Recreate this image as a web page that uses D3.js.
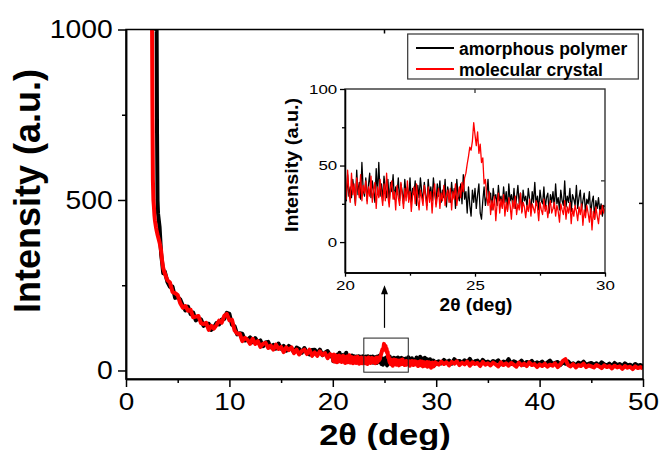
<!DOCTYPE html>
<html>
<head>
<meta charset="utf-8">
<script src="https://cdn.jsdelivr.net/npm/d3@7"></script>
<style>
body { margin: 0; background: #fff; }
text { font-family: "Liberation Sans", Arial, sans-serif; }
</style>
</head>
<body>
<svg width="663" height="450"></svg>
<script>
// series names
var seriesNames = ["amorphous polymer", "molecular crystal"];

// low angle part, uneven steps
var lowX = [2.45, 2.5, 2.55, 2.6, 2.65, 2.7, 2.75, 2.8, 2.85, 2.9, 2.95, 3.0, 3.05, 3.1, 3.25, 3.4, 3.5, 3.6, 3.75, 4.0];
var lowBlack = [null, null, null, null, null, null, 1300, 1050, 1200, 1000, 1100, 700, 500, 460, 420, 340, 315, 285, 290, 260];
var lowRed = [1300, 1150, 800, 560, 500, 480, 455, 440, 430, 420, 412, 405, 398, 392, 375, 350, 320, 300, 285, 265];

// 4.25 .. 19.75 deg, step 0.25
var midX = d3.range(4.25, 19.8, 0.25);
var midBlack = [245, 246, 213, 215, 208, 190, 176, 187, 165, 170,
    147, 153, 150, 131, 135, 137, 119, 126, 139, 135,
    149, 151, 169, 166, 134, 130, 106, 109, 108, 88,
    90, 97, 83, 95, 82, 88, 71, 82, 84, 68,
    75, 64, 79, 64, 72, 58, 72, 65, 53, 67,
    63, 52, 66, 53, 47, 60, 61, 50, 61, 45,
    52, 57, 43];
var midRed = [258, 230, 227, 221, 197, 184, 189, 175, 178, 156,
    158, 160, 139, 136, 140, 119, 131, 123, 133, 146,
    140, 160, 166, 147, 149, 118, 108, 108, 86, 96,
    90, 78, 93, 78, 86, 69, 78, 81, 66, 73,
    61, 76, 63, 69, 54, 68, 60, 68, 51, 61,
    47, 57, 61, 48, 61, 43, 53, 43, 56, 45,
    51, 36, 48];

// 20 .. 30 deg, step 0.05 (also used by the inset)
var zoomX = d3.range(0, 201).map(function(i) { return 20 + i * 0.05; });
var zoomBlack = [38, 27, 44, 30, 36, 29, 41, 33, 25, 47, 31, 39, 28, 52, 34, 30, 42, 27, 37, 45,
    29, 40, 33, 26, 48, 31, 52, 30, 38, 27, 43, 35, 29, 41, 26, 39, 33, 44, 28, 36,
    31, 42, 27, 38, 33, 25, 41, 30, 36, 28, 42, 26, 35, 31, 40, 24, 37, 29, 42, 33,
    27, 39, 31, 24, 41, 30, 36, 27, 42, 32, 25, 38, 30, 40, 26, 34, 29, 41, 23, 36,
    31, 26, 39, 29, 35, 22, 41, 30, 27, 38, 25, 44, 28, 33, 19, 36, 24, 17, 34, 26,
    35, 22, 31, 38, 19, 15, 27, 36, 24, 30, 41, 26, 32, 21, 35, 28, 31, 24, 37, 27,
    30, 23, 36, 26, 33, 21, 38, 27, 31, 24, 35, 22, 29, 37, 25, 32, 20, 34, 27, 30,
    23, 35, 28, 20, 33, 26, 39, 24, 30, 21, 34, 27, 25, 36, 22, 29, 32, 19, 31, 26,
    33, 22, 38, 25, 29, 21, 34, 27, 24, 40, 23, 30, 26, 35, 20, 31, 28, 24, 37, 22,
    29, 34, 21, 27, 32, 19, 28, 25, 33, 18, 26, 30, 15, 27, 22, 29, 20, 25, 17, 24,
    23];
var zoomRed = [40, 28, 47, 33, 26, 45, 31, 38, 24, 42, 35, 29, 44, 27, 37, 32, 40, 25, 36, 30,
    43, 26, 34, 39, 22, 36, 29, 41, 31, 24, 38, 27, 45, 30, 23, 35, 40, 28, 33, 21,
    37, 29, 24, 39, 31, 22, 35, 27, 40, 26, 33, 20, 30, 36, 25, 38, 28, 21, 34, 29,
    24, 37, 30, 21, 36, 26, 33, 19, 31, 38, 23, 29, 35, 22, 32, 27, 37, 24, 30, 34,
    26, 35, 21, 33, 28, 38, 24, 31, 36, 29, 39, 33, 42, 45, 51, 56, 62, 60, 66, 78,
    70, 63, 72, 58, 64, 52, 55, 38, 41, 30, 24, 33, 18, 27, 21, 30, 14, 25, 32, 19,
    28, 22, 31, 17, 26, 20, 29, 24, 15, 27, 22, 30, 18, 25, 21, 32, 19, 26, 23, 16,
    24, 20, 28, 17, 25, 22, 19, 27, 23, 14, 26, 21, 18, 28, 20, 24, 16, 23, 27, 19,
    22, 26, 17, 24, 20, 13, 25, 21, 18, 27, 15, 23, 19, 26, 12, 22, 17, 24, 20, 14,
    23, 18, 25, 11, 21, 16, 24, 19, 13, 22, 8, 20, 15, 23, 17, 12, 21, 18, 24, 19,
    22];

// 30.25 .. 50 deg, step 0.25
var highX = d3.range(30.25, 50.1, 0.25);
var highBlack = [27, 21, 31, 24, 29, 20, 33, 25, 28, 22, 30, 24, 34, 21, 27, 29, 19, 31, 23, 26,
    20, 28, 24, 30, 18, 26, 22, 33, 19, 27, 23, 21, 29, 17, 25, 22, 28, 18, 24, 20,
    26, 17, 23, 29, 19, 22, 25, 16, 24, 20, 27, 18, 21, 15, 23, 19, 26, 16, 20, 22,
    17, 21, 14, 24, 18, 15, 20, 13, 22, 16, 19, 12, 21, 15, 17, 11, 19, 14, 16, 12];
var highRed = [17, 26, 19, 24, 15, 25, 20, 27, 16, 23, 18, 26, 14, 24, 19, 22, 13, 25, 17, 21,
    15, 23, 18, 12, 24, 16, 21, 14, 22, 17, 11, 23, 15, 20, 13, 24, 16, 19, 10, 18,
    13, 20, 11, 17, 14, 21, 10, 18, 28, 33, 16, 12, 19, 9, 16, 13, 20, 10, 15, 12,
    9, 16, 12, 7, 15, 10, 13, 6, 14, 9, 12, 5, 13, 8, 11, 4, 12, 7, 10, 6];

// axis ticks
var mainXTicks = [0, 10, 20, 30, 40, 50];
var mainXMinor = [5, 15, 25, 35, 45];
var mainYTicks = [0, 500, 1000];
var mainYMinor = [250, 750];
var insetXTicks = [20, 25, 30];
var insetXMinor = [22.5, 27.5];
var insetYTicks = [0, 50, 100];
var insetYMinor = [25, 75];

var svg = d3.select("svg");
var colors = ["#000000", "#ff0000"];

function pairs(xs, ys) {
    return xs.map(function(d, i) { return [d, ys[i]]; });
}

var blackData = pairs(lowX, lowBlack).concat(pairs(midX, midBlack), pairs(zoomX, zoomBlack), pairs(highX, highBlack));
var redData = pairs(lowX, lowRed).concat(pairs(midX, midRed), pairs(zoomX, zoomRed), pairs(highX, highRed));

// main scales
var x = d3.scaleLinear().domain([0, 50]).range([126, 643]);
var y = d3.scaleLinear().domain([-25, 1000]).range([379, 29.5]);

// inset scales
var xi = d3.scaleLinear().domain([20, 30]).range([345, 605]);
var yi = d3.scaleLinear().domain([-20, 100]).range([272.7, 89]);

var defs = svg.append("defs");
defs.append("clipPath").attr("id", "clipMain")
    .append("rect")
    .attr("x", x(0)).attr("y", y(1000))
    .attr("width", x(50) - x(0)).attr("height", y(-25) - y(1000));
defs.append("clipPath").attr("id", "clipInset")
    .append("rect")
    .attr("x", xi(20)).attr("y", yi(100))
    .attr("width", xi(30) - xi(20)).attr("height", yi(-20) - yi(100));

var line = d3.line()
    .defined(function(d) { return d[1] != null; })
    .x(function(d) { return x(d[0]); })
    .y(function(d) { return y(d[1]); });

var lineInset = d3.line()
    .x(function(d) { return xi(d[0]); })
    .y(function(d) { return yi(d[1]); });

// main curves
var plot = svg.append("g").attr("clip-path", "url(#clipMain)");
[blackData, redData].forEach(function(data, i) {
    plot.append("path")
        .attr("d", line(data))
        .attr("fill", "none")
        .attr("stroke", colors[i])
        .attr("stroke-width", 4)
        .attr("stroke-linejoin", "round");
});

// helper for axes
function styleAxis(g, width) {
    g.select(".domain").attr("stroke", "#000").attr("stroke-width", width);
    g.selectAll(".tick line").attr("stroke", "#000").attr("stroke-width", width);
}

// main frame
svg.append("rect")
    .attr("x", x(0)).attr("y", y(1000))
    .attr("width", x(50) - x(0)).attr("height", y(-25) - y(1000))
    .attr("fill", "none").attr("stroke", "#000").attr("stroke-width", 1.5);

var gx = svg.append("g")
    .attr("transform", "translate(0," + y(-25) + ")")
    .call(d3.axisBottom(x).tickValues(mainXTicks).tickSize(8).tickSizeOuter(0).tickPadding(6).tickFormat(d3.format("d")));
gx.selectAll("text")
    .attr("font-size", 24.5)
    .attr("fill", "#000")
    .attr("transform", "scale(1.14,1)");
styleAxis(gx, 1.5);

var gxm = svg.append("g")
    .attr("transform", "translate(0," + y(-25) + ")")
    .call(d3.axisBottom(x).tickValues(mainXMinor).tickSize(4).tickSizeOuter(0).tickFormat(""));
styleAxis(gxm, 1.5);

var gy = svg.append("g")
    .attr("transform", "translate(" + x(0) + ",0)")
    .call(d3.axisLeft(y).tickValues(mainYTicks).tickSize(8).tickSizeOuter(0).tickPadding(4).tickFormat(d3.format("d")));
gy.selectAll("text")
    .attr("font-size", 25.5)
    .attr("fill", "#000")
    .attr("transform", "scale(1.11,1)");
styleAxis(gy, 1.5);

var gym = svg.append("g")
    .attr("transform", "translate(" + x(0) + ",0)")
    .call(d3.axisLeft(y).tickValues(mainYMinor).tickSize(4).tickSizeOuter(0).tickFormat(""));
styleAxis(gym, 1.5);

// odd inner ticks on top and right
svg.append("line")
    .attr("x1", x(25)).attr("x2", x(25))
    .attr("y1", y(1000)).attr("y2", y(1000) + 4)
    .attr("stroke", "#000").attr("stroke-width", 1.5);
svg.append("line")
    .attr("x1", x(50)).attr("x2", x(50) - 4)
    .attr("y1", y(490)).attr("y2", y(490))
    .attr("stroke", "#000").attr("stroke-width", 1.5);

// axis titles
svg.append("text")
    .attr("transform", "translate(40,191) rotate(-90)")
    .attr("text-anchor", "middle")
    .attr("font-size", 36)
    .attr("font-weight", "bold")
    .text("Intensity (a.u.)");

svg.append("text")
    .attr("transform", "translate(385,445) scale(1.15,1)")
    .attr("text-anchor", "middle")
    .attr("font-size", 30)
    .attr("font-weight", "bold")
    .text("2\u03b8 (deg)");

// zoom box and arrow
svg.append("rect")
    .attr("x", x(23)).attr("y", y(95))
    .attr("width", x(27.3) - x(23)).attr("height", y(-5) - y(95))
    .attr("fill", "none").attr("stroke", "#222").attr("stroke-width", 1);

svg.append("line")
    .attr("x1", x(25)).attr("x2", x(25))
    .attr("y1", y(125)).attr("y2", y(235))
    .attr("stroke", "#000").attr("stroke-width", 1.2);
svg.append("path")
    .attr("d", "M" + x(25) + "," + y(250) + "l-3.5,9l7,0z")
    .attr("fill", "#000");

// inset
svg.append("rect")
    .attr("x", xi(20)).attr("y", yi(100))
    .attr("width", xi(30) - xi(20)).attr("height", yi(-20) - yi(100))
    .attr("fill", "#fff");

var inset = svg.append("g").attr("clip-path", "url(#clipInset)");
[pairs(zoomX, zoomBlack), pairs(zoomX, zoomRed)].forEach(function(data, i) {
    inset.append("path")
        .attr("d", lineInset(data))
        .attr("fill", "none")
        .attr("stroke", colors[i])
        .attr("stroke-width", 1.3)
        .attr("stroke-linejoin", "round");
});

svg.append("rect")
    .attr("x", xi(20)).attr("y", yi(100))
    .attr("width", xi(30) - xi(20)).attr("height", yi(-20) - yi(100))
    .attr("fill", "none").attr("stroke", "#333").attr("stroke-width", 1.4);

var ix = svg.append("g")
    .attr("transform", "translate(0," + yi(-20) + ")")
    .call(d3.axisBottom(xi).tickValues(insetXTicks).tickSize(4).tickSizeOuter(0).tickPadding(4));
ix.selectAll("text")
    .attr("font-size", 13)
    .attr("fill", "#000")
    .attr("transform", "scale(1.3,1)");
styleAxis(ix, 1.3);

var ixm = svg.append("g")
    .attr("transform", "translate(0," + yi(-20) + ")")
    .call(d3.axisBottom(xi).tickValues(insetXMinor).tickSize(3).tickSizeOuter(0).tickFormat(""));
styleAxis(ixm, 1.3);

var iy = svg.append("g")
    .attr("transform", "translate(" + xi(20) + ",0)")
    .call(d3.axisLeft(yi).tickValues(insetYTicks).tickSize(5).tickSizeOuter(0).tickPadding(1));
iy.selectAll("text")
    .attr("font-size", 13)
    .attr("fill", "#000")
    .attr("transform", "scale(1.3,1)");
styleAxis(iy, 1.3);

var iym = svg.append("g")
    .attr("transform", "translate(" + xi(20) + ",0)")
    .call(d3.axisLeft(yi).tickValues(insetYMinor).tickSize(3).tickSizeOuter(0).tickFormat(""));
styleAxis(iym, 1.3);

svg.append("line")
    .attr("x1", xi(25)).attr("x2", xi(25))
    .attr("y1", yi(100)).attr("y2", yi(100) + 4)
    .attr("stroke", "#333").attr("stroke-width", 1.3);
svg.append("line")
    .attr("x1", xi(30)).attr("x2", xi(30) - 4)
    .attr("y1", yi(40)).attr("y2", yi(40))
    .attr("stroke", "#333").attr("stroke-width", 1.3);

svg.append("text")
    .attr("transform", "translate(298,165) rotate(-90) scale(1.1,1)")
    .attr("text-anchor", "middle")
    .attr("font-size", 18)
    .attr("font-weight", "bold")
    .text("Intensity (a.u.)");

svg.append("text")
    .attr("transform", "translate(476,311) scale(1.09,1)")
    .attr("text-anchor", "middle")
    .attr("font-size", 17.5)
    .attr("font-weight", "bold")
    .text("2\u03b8 (deg)");

// legend
var legend = svg.append("g");
legend.append("rect")
    .attr("x", 407.7).attr("y", 34)
    .attr("width", 230.6).attr("height", 45)
    .attr("fill", "#fff").attr("stroke", "#333").attr("stroke-width", 1.2);

seriesNames.forEach(function(name, i) {
    legend.append("line")
        .attr("x1", 416).attr("x2", 454)
        .attr("y1", 48 + i * 21).attr("y2", 48 + i * 21)
        .attr("stroke", colors[i]).attr("stroke-width", 2);
    legend.append("text")
        .attr("x", 459).attr("y", 54.5 + i * 21)
        .attr("font-size", 17.5)
        .attr("font-weight", "bold")
        .text(name);
});
</script>
</body>
</html>
